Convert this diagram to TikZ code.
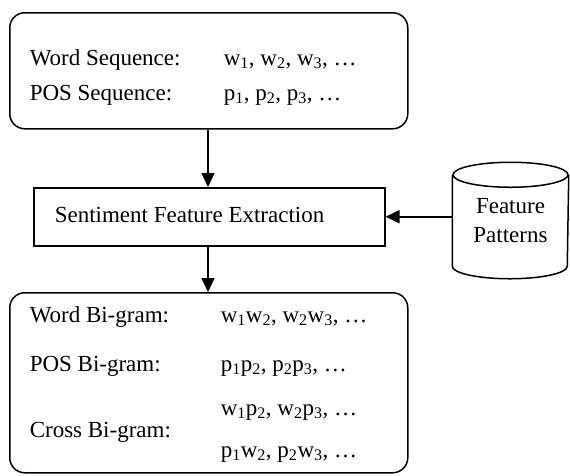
\documentclass[tikz,border=0pt]{standalone}
\usepackage{fontspec}
\setmainfont{Liberation Serif}
\usetikzlibrary{arrows.meta}
\begin{document}
\begin{tikzpicture}[x=1pt,y=-1pt,
  line width=1.5pt,
  txt/.style={anchor=base west,inner sep=0pt,font=\fontsize{23}{27}\selectfont},
  arr/.style={-{Triangle[length=14pt,width=13pt]}},
  rbox/.style={draw,rounded corners=15pt,anchor=north west,inner sep=0pt}]
\useasboundingbox (0,0) rectangle (570,475);
% top box
\node[rbox,minimum width=398pt,minimum height=116pt] (top) at (9,12) {};
\node[txt] (ws) at (29,65) {Word Sequence:};
\node[txt] (wv) at (223,65) {w\textsubscript{1}, w\textsubscript{2}, w\textsubscript{3}, …};
\node[txt] (ps) at (29,100) {POS Sequence:};
\node[txt] (pv) at (223,100) {p\textsubscript{1}, p\textsubscript{2}, p\textsubscript{3}, …};
% middle box
\node[draw,anchor=north west,inner sep=0pt,minimum width=351pt,minimum height=58pt] (mid) at (33,187) {};
\node[txt] (se) at (54,222) {Sentiment Feature Extraction};
% cylinder
\node[inner sep=0pt,minimum width=115pt,minimum height=90pt,align=center,font=\fontsize{23}{29}\selectfont] (fp) at (510.5,220.5) {Feature\\Patterns};
\draw (fp.north west) -- (fp.south west) arc[start angle=180,end angle=360,x radius=57.5pt,y radius=12.5pt] -- (fp.north east);
\draw (fp.north) ellipse[x radius=57.5pt,y radius=12.5pt];
% bottom box
\node[rbox,minimum width=398pt,minimum height=180pt] (bot) at (9,292) {};
\node[txt] (wb) at (29,322) {Word Bi-gram:};
\node[txt] (wbv) at (220,322) {w\textsubscript{1}w\textsubscript{2}, w\textsubscript{2}w\textsubscript{3}, …};
\node[txt] (pb) at (29,371) {POS Bi-gram:};
\node[txt] (pbv) at (220,371) {p\textsubscript{1}p\textsubscript{2}, p\textsubscript{2}p\textsubscript{3}, …};
\node[txt] (cb) at (29,437) {Cross Bi-gram:};
\node[txt] (cbv1) at (220,415) {w\textsubscript{1}p\textsubscript{2}, w\textsubscript{2}p\textsubscript{3}, …};
\node[txt] (cbv2) at (220,457) {p\textsubscript{1}w\textsubscript{2}, p\textsubscript{2}w\textsubscript{3}, …};
% connectors
\draw[arr] (top.south -| 208,0) -- (mid.north -| 208,0);
\draw[arr] (mid.south -| 208,0) -- (bot.north -| 208,0);
\draw[arr] (fp.west |- mid.east) -- (mid.east);
\end{tikzpicture}
\end{document}
